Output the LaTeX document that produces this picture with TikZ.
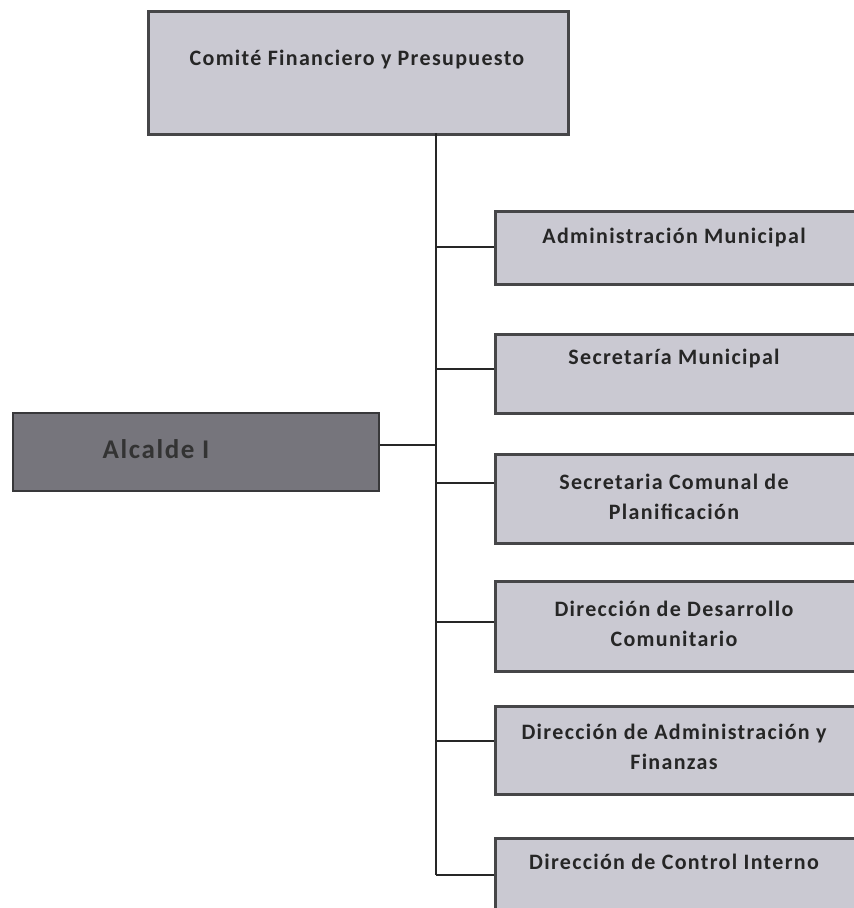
\documentclass[tikz,border=0pt]{standalone}
\usepackage{fontspec}
\setmainfont{Carlito}
\newfontfamily\boxfont{Carlito}[LetterSpace=6]
\definecolor{boxfill}{RGB}{202,201,210}
\definecolor{alcfill}{RGB}{118,117,124}
\definecolor{boxline}{RGB}{70,70,72}
\begin{document}
\begin{tikzpicture}[x=1pt,y=-1pt,
  orgbox/.style={draw=boxline, line width=3pt, fill=boxfill, rectangle, inner sep=0pt},
  alcbox/.style={draw=boxline!80!black, line width=2pt, fill=alcfill, rectangle, inner sep=0pt},
  lbl/.style={font=\boxfont\bfseries\fontsize{22}{30}\selectfont, text=black!85, align=center, inner sep=0pt},
  conn/.style={draw=black!85, line width=2pt}]
\useasboundingbox (0,0) rectangle (854,908);
% boxes
\node[orgbox, minimum width=420pt, minimum height=123pt, anchor=north west] (comite) at (147,10) {};
\node[alcbox, minimum width=366pt, minimum height=78pt, anchor=north west] (alcalde) at (12,412) {};
\node[orgbox, minimum width=366pt, minimum height=73pt, anchor=north west] (admin) at (494,210) {};
\node[orgbox, minimum width=366pt, minimum height=79pt, anchor=north west] (secmun) at (494,333) {};
\node[orgbox, minimum width=366pt, minimum height=89pt, anchor=north west] (secpla) at (494,453) {};
\node[orgbox, minimum width=366pt, minimum height=90pt, anchor=north west] (dideco) at (494,580) {};
\node[orgbox, minimum width=366pt, minimum height=88pt, anchor=north west] (daf) at (494,705) {};
\node[orgbox, minimum width=366pt, minimum height=90pt, anchor=north west] (dci) at (494,837) {};
% labels
\node[lbl] (comite-t) at (357,60) {Comité Financiero y Presupuesto};
\node[lbl, font=\boxfont\bfseries\fontsize{27}{30}\selectfont, text=black!80] (alcalde-t) at (156,449) {Alcalde I};
\node[lbl] (admin-t) at (674,238) {Administración Municipal};
\node[lbl] (secmun-t) at (674,359) {Secretaría Municipal};
\node[lbl] (secpla-t) at (674,497) {Secretaria Comunal de\\Planificación};
\node[lbl] (dideco-t) at (674,624) {Dirección de Desarrollo\\Comunitario};
\node[lbl] (daf-t) at (674,747) {Dirección de Administración y\\Finanzas};
\node[lbl] (dci-t) at (674,862) {Dirección de Control Interno};
% trunk junctions
\coordinate (jtop) at (436,133);
\coordinate (jalc) at (436,445);
\coordinate (jadmin) at (436,247);
\coordinate (jsecmun) at (436,369);
\coordinate (jsecpla) at (436,483);
\coordinate (jdideco) at (436,622);
\coordinate (jdaf) at (436,741);
\coordinate (jdci) at (436,875);
% connectors
\draw[conn] (jtop) -- (jdci);
\draw[conn] (alcalde.east |- jalc) -- (jalc);
\draw[conn] (jadmin) -- (admin.west |- jadmin);
\draw[conn] (jsecmun) -- (secmun.west |- jsecmun);
\draw[conn] (jsecpla) -- (secpla.west |- jsecpla);
\draw[conn] (jdideco) -- (dideco.west |- jdideco);
\draw[conn] (jdaf) -- (daf.west |- jdaf);
\draw[conn] (jdci) -- (dci.west |- jdci);
\end{tikzpicture}
\end{document}
